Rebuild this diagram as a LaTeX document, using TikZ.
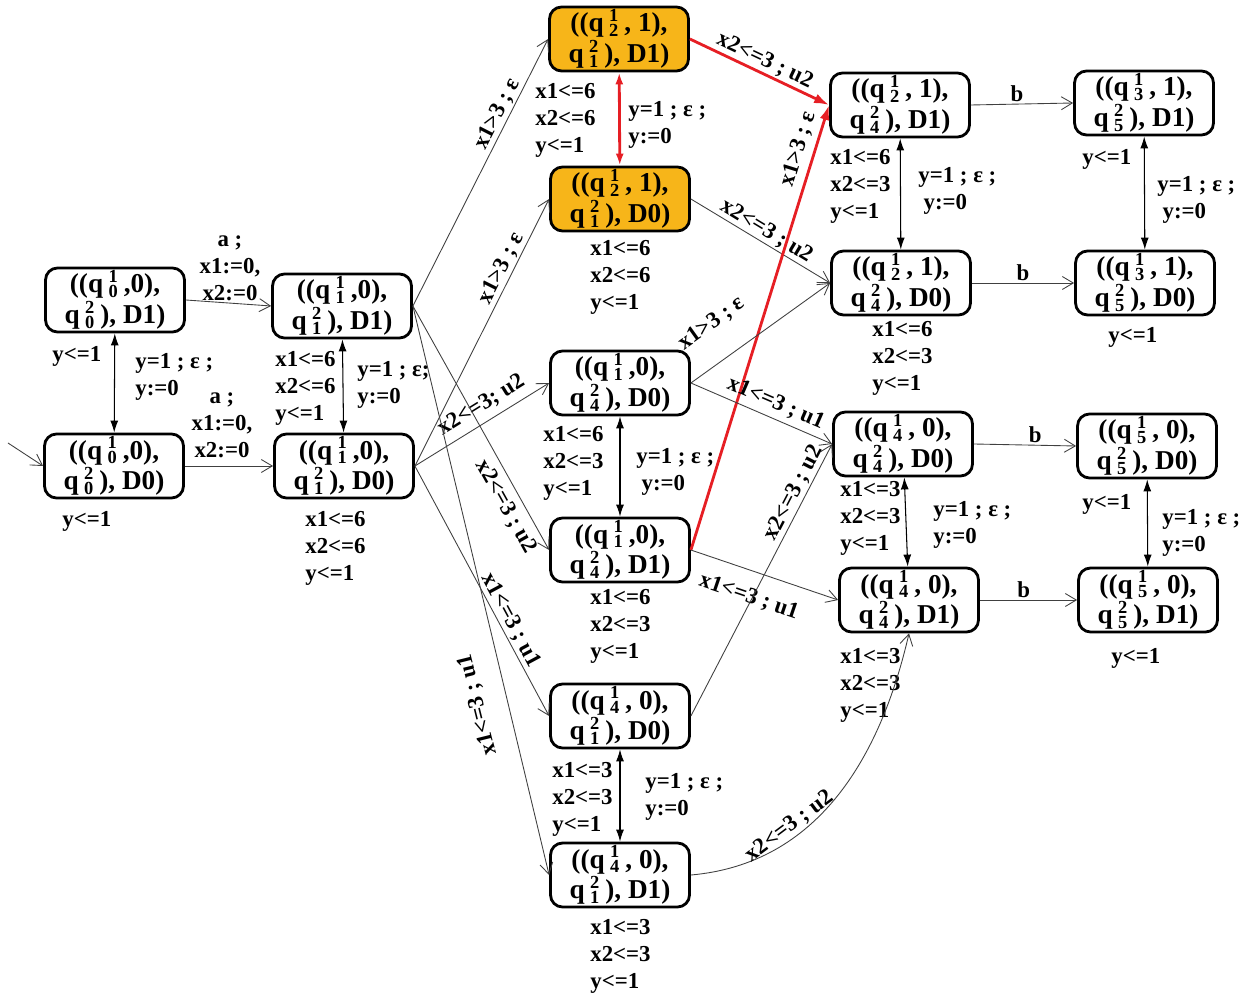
\documentclass[tikz,border=0pt]{standalone}
\usepackage{fontspec}
\setmainfont{Liberation Serif}
\usetikzlibrary{arrows.meta,positioning}
\definecolor{StateOrange}{RGB}{247,181,25}
\definecolor{PathRed}{RGB}{230,30,36}
\newcommand{\qsub}[2]{\hspace{0.2em}\rlap{\raisebox{6pt}{\fontsize{10.5}{10.5}\selectfont#1}}%
  \raisebox{-2.6pt}{\fontsize{10.5}{10.5}\selectfont#2}\hspace{0.22em}}

\tikzset{
  state/.style={draw, line width=1.6pt, rounded corners=0.24cm, minimum width=2.78cm,
    minimum height=1.28cm, inner sep=1pt, align=center, font=\fontsize{15.5}{17.6}\selectfont\bfseries},
  hot/.style={state, fill=StateOrange},
  inv/.style={inner sep=0pt, align=left, anchor=north west, font=\fontsize{13}{15.4}\selectfont\bfseries},
  lbl/.style={inner sep=1pt, font=\fontsize{13}{15.4}\selectfont\bfseries},
  trans/.style={draw=black!75, line width=0.5pt, -{Straight Barb[length=2.2mm,width=2.6mm]}},
  toggle/.style={line width=0.6pt, {Latex[length=2.4mm,width=1.6mm]}-{Latex[length=2.4mm,width=1.6mm]}},
  hit/.style={draw=PathRed, line width=1.6pt, -{Latex[length=3mm,width=2mm]}},
}

\begin{document}
\begin{tikzpicture}[x=0.02cm, y=-0.02cm]
  \useasboundingbox (0,0) rectangle (1253,999);

  % states
  \node[state] (A1) at (115,300) {((q\qsub{1}{0},0),\\q\qsub{2}{0}), D1)};
  \node[state] (A0) at (114,466) {((q\qsub{1}{0},0),\\q\qsub{2}{0}), D0)};
  \node[state] (B1) at (342,306) {((q\qsub{1}{1},0),\\q\qsub{2}{1}), D1)};
  \node[state] (B0) at (344,466) {((q\qsub{1}{1},0),\\q\qsub{2}{1}), D0)};
  \node[hot]   (C1) at (619,39)  {((q\qsub{1}{2}, 1),\\q\qsub{2}{1}), D1)};
  \node[hot]   (C0) at (620,199) {((q\qsub{1}{2}, 1),\\q\qsub{2}{1}), D0)};
  \node[state] (D0) at (620,383) {((q\qsub{1}{1},0),\\q\qsub{2}{4}), D0)};
  \node[state] (D1) at (620,550) {((q\qsub{1}{1},0),\\q\qsub{2}{4}), D1)};
  \node[state] (E0) at (620,716) {((q\qsub{1}{4}, 0),\\q\qsub{2}{1}), D0)};
  \node[state] (E1) at (620,875) {((q\qsub{1}{4}, 0),\\q\qsub{2}{1}), D1)};
  \node[state] (F1) at (900,105) {((q\qsub{1}{2}, 1),\\q\qsub{2}{4}), D1)};
  \node[state] (F0) at (901,283) {((q\qsub{1}{2}, 1),\\q\qsub{2}{4}), D0)};
  \node[state] (G1) at (1144,103) {((q\qsub{1}{3}, 1),\\q\qsub{2}{5}), D1)};
  \node[state] (G0) at (1145,283) {((q\qsub{1}{3}, 1),\\q\qsub{2}{5}), D0)};
  \node[state] (H0) at (903,444) {((q\qsub{1}{4}, 0),\\q\qsub{2}{4}), D0)};
  \node[state] (H1) at (909,600) {((q\qsub{1}{4}, 0),\\q\qsub{2}{4}), D1)};
  \node[state] (I0) at (1147,446) {((q\qsub{1}{5}, 0),\\q\qsub{2}{5}), D0)};
  \node[state] (I1) at (1148,600) {((q\qsub{1}{5}, 0),\\q\qsub{2}{5}), D1)};

  % invariants
  \node[inv] (iA1) at (52,346)  {y<=1};
  \node[inv] (iA0) at (62,511)  {y<=1};
  \node[inv] (iB1) at (275,351) {x1<=6\\x2<=6\\y<=1};
  \node[inv] (iB0) at (305,511) {x1<=6\\x2<=6\\y<=1};
  \node[inv] (iC1) at (535,83)  {x1<=6\\x2<=6\\y<=1};
  \node[inv] (iC0) at (590,240) {x1<=6\\x2<=6\\y<=1};
  \node[inv] (iD0) at (543,426) {x1<=6\\x2<=3\\y<=1};
  \node[inv] (iD1) at (590,589) {x1<=6\\x2<=3\\y<=1};
  \node[inv] (iE0) at (552,762) {x1<=3\\x2<=3\\y<=1};
  \node[inv] (iE1) at (590,919) {x1<=3\\x2<=3\\y<=1};
  \node[inv] (iF1) at (830,149) {x1<=6\\x2<=3\\y<=1};
  \node[inv] (iF0) at (872,321) {x1<=6\\x2<=3\\y<=1};
  \node[inv] (iG1) at (1082,149) {y<=1};
  \node[inv] (iG0) at (1108,327) {y<=1};
  \node[inv] (iH0) at (840,481) {x1<=3\\x2<=3\\y<=1};
  \node[inv] (iH1) at (840,648) {x1<=3\\x2<=3\\y<=1};
  \node[inv] (iI0) at (1082,494) {y<=1};
  \node[inv] (iI1) at (1111,648) {y<=1};

  % toggle labels
  \node[inv] (rA) at (135,353)  {y=1 ; ε ;\\y:=0};
  \node[inv] (rB) at (357,361)  {y=1 ; ε;\\y:=0};
  \node[inv] (rC) at (628,101)  {y=1 ; ε ;\\y:=0};
  \node[inv] (rD) at (636,448)  {y=1 ; ε ;\\\hspace{3pt}y:=0};
  \node[inv] (rE) at (645,773)  {y=1 ; ε ;\\y:=0};
  \node[inv] (rF) at (918,167)  {y=1 ; ε ;\\\hspace{3pt}y:=0};
  \node[inv] (rG) at (1157,176) {y=1 ; ε ;\\\hspace{3pt}y:=0};
  \node[inv] (rH) at (933,501)  {y=1 ; ε ;\\y:=0};
  \node[inv] (rI) at (1162,509) {y=1 ; ε ;\\y:=0};

  % start
  \coordinate (init) at (8,443);
  \draw[trans] (init) -- (A0.west);

  \node[lbl, align=center] (aA1) at (230,268) {a ;\\x1:=0,\\x2:=0};
  \node[lbl, align=center] (aA0) at (222,425) {a ;\\x1:=0,\\x2:=0};
  \draw[trans] (A1.east) -- (B1.west);
  \draw[trans] (A0.east) -- (B0.west);

  \draw[toggle] (A1) -- (A0);
  \draw[toggle] (B1) -- (B0);
  \draw[toggle, draw=PathRed, fill=PathRed, line width=1.6pt] (C1) -- (C0);
  \draw[toggle] (D0) -- (D1);
  \draw[toggle] (E0) -- (E1);
  \draw[toggle] (F1) -- (F0);
  \draw[toggle] (G1) -- (G0);
  \draw[toggle] (H0) -- (H1);
  \draw[toggle] (I0) -- (I1);

  \draw[trans] (B1.east) -- node[lbl, sloped, above, pos=0.7] {x1>3 ; ε} (C1.west);
  \draw[trans] (B0.east) -- node[lbl, sloped, above, pos=0.72] {x1>3 ; ε} (C0.west);
  \draw[trans] (B0.east) -- node[lbl, sloped, above=3pt, pos=0.56] {x2<=3; u2} (D0.west);
  \draw[trans] (B1.east) -- node[lbl, sloped, below=3pt, pos=0.79] {x2<=3 ; u2} (D1.west);
  \draw[trans] (B0.east) -- node[lbl, sloped, above, pos=0.64] {x1<=3 ; u1} (E0.west);
  \draw[trans] (B1.east) -- (E1.west);
  \node[lbl, rotate=104] (lBE) at (478,705) {x1<=3 ; u1};

  \draw[hit] (C1.east) -- node[lbl, sloped, above, pos=0.5] {x2<=3 ; u2} (F1.west);
  \draw[trans] (C0.east) -- node[lbl, sloped, above, pos=0.5] {x2<=3 ; u2} (F0.west);
  \draw[hit] (D1.east) -- node[lbl, sloped, above=2pt, pos=0.89] {x1>3 ; ε} (F1.west);
  \draw[trans] (D0.east) -- node[lbl, sloped, above=14pt, pos=0.3] {x1>3 ; ε} (F0.west);
  \draw[trans] (D0.east) -- node[lbl, sloped, above=2pt, pos=0.56] {x1<=3 ; u1} (H0.west);
  \draw[trans] (D1.east) -- node[lbl, sloped, below=8pt, pos=0.45] {x1<=3 ; u1} (H1.west);
  \draw[trans] (E0.east) -- node[lbl, sloped, above, pos=0.8] {x2<=3 ; u2} (H0.west);
  \draw[trans] (E1.east) to[out=5, in=-103] node[lbl, sloped, above, pos=0.33] {x2<=3 ; u2} (H1.south);

  \draw[trans] (F1.east) -- node[lbl, above, pos=0.45] {b} (G1.west);
  \draw[trans] (F0.east) -- node[lbl, above, pos=0.5] {b} (G0.west);
  \draw[trans] (H0.east) -- node[lbl, above, pos=0.6] {b} (I0.west);
  \draw[trans] (H1.east) -- node[lbl, above, pos=0.45] {b} (I1.west);
\end{tikzpicture}
\end{document}
